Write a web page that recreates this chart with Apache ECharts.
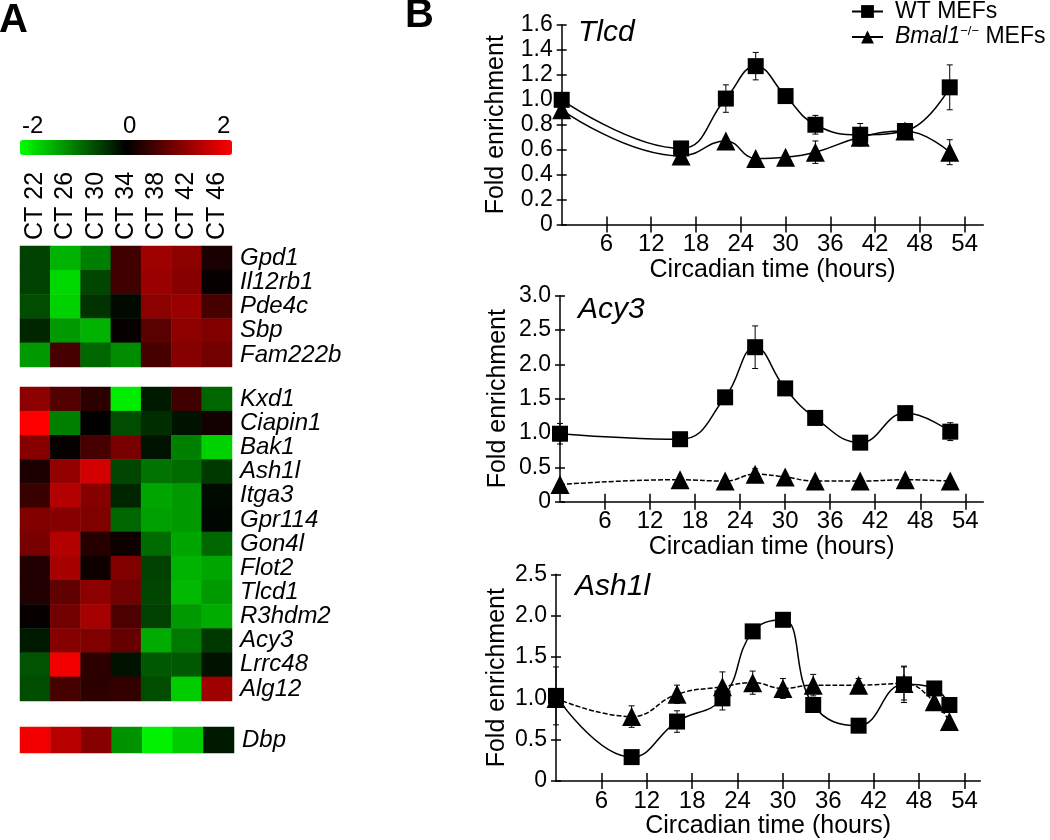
<!DOCTYPE html>
<html lang="en">
<head>
<meta charset="UTF-8">
<title>Heatmap and ChIP time courses</title>
<script src="https://cdn.jsdelivr.net/npm/echarts@6/dist/echarts.min.js"></script>
<style>
  html, body { margin: 0; padding: 0; background: #fff; }
  #chart { width: 1050px; height: 840px; }
</style>
</head>
<body>
<div id="chart"></div>
<script>
var FONT = 'Liberation Sans, Arial, sans-serif';

// ---- panel A: heatmap ----
var timepoints = ['CT 22', 'CT 26', 'CT 30', 'CT 34', 'CT 38', 'CT 42', 'CT 46'];

var genesTop = ['Gpd1', 'Il12rb1', 'Pde4c', 'Sbp', 'Fam222b'];
var valsTop = [
  [-0.5, -1.4, -1.0, 0.5, 1.25, 1.1, 0.2],
  [-0.5, -1.7, -0.55, 0.5, 1.2, 1.05, 0.05],
  [-0.6, -1.65, -0.4, -0.08, 1.1, 1.2, 0.55],
  [-0.3, -1.2, -1.4, 0.05, 0.7, 1.1, 1.0],
  [-1.2, 0.55, -0.8, -1.1, 0.55, 1.05, 0.9]
];

var genesMid = ['Kxd1', 'Ciapin1', 'Bak1', 'Ash1l', 'Itga3', 'Gpr114', 'Gon4l',
  'Flot2', 'Tlcd1', 'R3hdm2', 'Acy3', 'Lrrc48', 'Alg12'];
var valsMid = [
  [1.1, 0.65, 0.35, -1.85, -0.2, 0.5, -0.8],
  [2.0, -1.0, 0.0, -0.6, -0.35, -0.15, 0.15],
  [1.05, 0.05, 0.55, 0.95, -0.15, -1.0, -1.65],
  [0.2, 1.15, 1.65, -0.55, -0.9, -0.85, -0.45],
  [0.45, 1.4, 1.05, -0.3, -1.3, -1.2, -0.08],
  [1.0, 1.05, 1.0, -0.8, -1.25, -1.2, -0.05],
  [0.95, 1.4, 0.3, 0.1, -0.85, -1.3, -0.8],
  [0.25, 1.3, 0.12, 1.0, -0.5, -1.4, -1.3],
  [0.25, 0.75, 1.1, 0.9, -0.55, -1.45, -1.2],
  [0.05, 0.9, 1.3, 0.6, -0.5, -1.2, -1.35],
  [-0.2, 1.05, 1.0, 0.8, -1.35, -0.95, -0.45],
  [-0.65, 1.9, 0.35, -0.15, -0.7, -0.7, -0.15],
  [-0.6, 0.55, 0.35, 0.4, -0.6, -1.6, 1.25]
];

var genesDbp = ['Dbp'];
var valsDbp = [[1.9, 1.45, 1.05, -1.15, -1.9, -1.6, -0.2]];

var scaleLabels = ['-2', '0', '2'];

// ---- panel B: fold enrichment time courses ----
var xTicks = [6, 12, 18, 24, 30, 36, 42, 48, 54];

var tlcdTime = [0, 16, 22, 26, 30, 34, 40, 46, 52];
var tlcdWT = [1.0, 0.61, 1.01, 1.27, 1.03, 0.8, 0.72, 0.75, 1.1];
var tlcdWTErr = [0, 0.03, 0.11, 0.11, 0.03, 0.075, 0.09, 0.05, 0.18];
var tlcdKO = [0.92, 0.55, 0.67, 0.53, 0.54, 0.58, 0.7, 0.75, 0.58];
var tlcdKOErr = [0, 0, 0, 0, 0, 0.09, 0.04, 0.06, 0.1];

var acyTime = [0, 16, 22, 26, 30, 34, 40, 46, 52];
var acyWT = [0.99, 0.91, 1.52, 2.25, 1.65, 1.22, 0.86, 1.29, 1.02];
var acyWTErr = [0.15, 0.07, 0, 0.31, 0.1, 0.1, 0, 0, 0.13];
var acyKO = [0.25, 0.32, 0.3, 0.4, 0.36, 0.3, 0.3, 0.32, 0.3];
var acyKOErr = [0, 0, 0, 0.08, 0, 0, 0, 0, 0];

var ashTime = [0, 10, 16, 22, 26, 30, 34, 40, 46, 50, 52];
var ashWT = [1.03, 0.29, 0.72, 1.0, 1.81, 1.95, 0.92, 0.67, 1.17, 1.12, 0.92];
var ashWTErr = [0.35, 0, 0.13, 0.14, 0, 0.06, 0, 0, 0.22, 0, 0];
var ashKO = [1.0, 0.78, 1.05, 1.14, 1.19, 1.12, 1.16, 1.16, 1.18, 0.96, 0.72];
var ashKOErr = [0, 0.13, 0.11, 0.18, 0.14, 0.12, 0.13, 0.08, 0.2, 0, 0];

var WT = 'WT MEFs';
var KO = 'Bmal1\u2212/\u2212 MEFs';

function cells(vals) {
  var out = [];
  vals.forEach(function (row, r) {
    row.forEach(function (v, c) { out.push([c, r, v]); });
  });
  return out;
}

function pairs(xs, ys) {
  return xs.map(function (x, i) { return [x, ys[i]]; });
}

function errs(xs, ys, es) {
  var out = [];
  xs.forEach(function (x, i) {
    if (es[i] > 0) out.push([x, ys[i] - es[i], ys[i] + es[i]]);
  });
  return out;
}

function renderErr(params, api) {
  var x = api.value(0);
  var lo = api.coord([x, api.value(1)]);
  var hi = api.coord([x, api.value(2)]);
  var w = 3;
  var st = { stroke: '#000', lineWidth: 1 };
  return {
    type: 'group',
    children: [
      { type: 'line', shape: { x1: lo[0], y1: lo[1], x2: hi[0], y2: hi[1] }, style: st },
      { type: 'line', shape: { x1: lo[0] - w, y1: lo[1], x2: lo[0] + w, y2: lo[1] }, style: st },
      { type: 'line', shape: { x1: hi[0] - w, y1: hi[1], x2: hi[0] + w, y2: hi[1] }, style: st }
    ]
  };
}

var chart = echarts.init(document.getElementById('chart'));

// heatmap axes
var heatGrids = [
  { left: 20, top: 246, width: 212, height: 121 },
  { left: 20, top: 387, width: 212, height: 314 },
  { left: 20, top: 727, width: 214, height: 26 }
];
var geneLists = [genesTop, genesMid, genesDbp];

var xAxes = [], yAxes = [];
heatGrids.forEach(function (g, i) {
  xAxes.push({
    type: 'category', gridIndex: i, data: timepoints, position: 'top',
    axisLine: { show: false }, axisTick: { show: false }, splitLine: { show: false },
    axisLabel: {
      show: i === 0, rotate: -90, interval: 0, margin: 6,
      fontFamily: FONT, fontSize: 25, color: '#000'
    }
  });
  yAxes.push({
    type: 'category', gridIndex: i, data: geneLists[i], inverse: true, position: 'right',
    axisLine: { show: false }, axisTick: { show: false }, splitLine: { show: false },
    axisLabel: {
      interval: 0, margin: 8, fontFamily: FONT, fontSize: 24,
      fontStyle: 'italic', color: '#000'
    }
  });
});

// line chart grids (x axis max in hours, y range, y-name gap)
var lineGrids = [
  { left: 561.7, top: 25, width: 421.6, height: 199.5, max: 56.5, ymax: 1.6, step: 0.2, ngap: 53 },
  { left: 560, top: 295.7, width: 423.3, height: 206, max: 56.4, ymax: 3.0, step: 0.5, ngap: 49 },
  { left: 556, top: 574.3, width: 424.4, height: 208.4, max: 56.1, ymax: 2.5, step: 0.5, ngap: 46 }
];

var axisBlack = { color: '#000', width: 1.5 };

lineGrids.forEach(function (g, k) {
  var gi = k + 3;
  xAxes.push({
    type: 'value', gridIndex: gi, min: 0, max: g.max,
    name: 'Circadian time (hours)', nameLocation: 'middle', nameGap: 26,
    nameTextStyle: { fontFamily: FONT, fontSize: 25, color: '#000' },
    axisLine: { lineStyle: axisBlack },
    axisTick: { customValues: xTicks, length: 8, lineStyle: axisBlack },
    axisLabel: { customValues: xTicks, margin: 8, fontFamily: FONT, fontSize: 24, color: '#000' },
    splitLine: { show: false }
  });
  yAxes.push({
    type: 'value', gridIndex: gi, min: 0, max: g.ymax, interval: g.step,
    name: 'Fold enrichment', nameLocation: 'middle', nameGap: g.ngap,
    nameTextStyle: { fontFamily: FONT, fontSize: 25, color: '#000' },
    axisLine: { show: true, lineStyle: axisBlack },
    axisTick: { show: true, length: 5, lineStyle: axisBlack },
    axisLabel: {
      margin: 9, fontFamily: FONT, fontSize: 23, color: '#000',
      formatter: function (v) { return v === 0 ? '0' : v.toFixed(1); }
    },
    splitLine: { show: false }
  });
});

// second set of axes on the same grids: inside half of the crossing ticks
lineGrids.forEach(function (g, k) {
  var gi = k + 3;
  xAxes.push({
    type: 'value', gridIndex: gi, min: 0, max: g.max, position: 'bottom',
    axisLine: { show: false }, axisLabel: { show: false }, splitLine: { show: false },
    axisTick: { customValues: xTicks, inside: true, length: 8, lineStyle: axisBlack }
  });
  yAxes.push({
    type: 'value', gridIndex: gi, min: 0, max: g.ymax, interval: g.step, position: 'left',
    axisLine: { show: false }, axisLabel: { show: false }, splitLine: { show: false },
    axisTick: { show: true, inside: true, length: 5, lineStyle: axisBlack }
  });
});

var series = [
  { type: 'heatmap', xAxisIndex: 0, yAxisIndex: 0, data: cells(valsTop) },
  { type: 'heatmap', xAxisIndex: 1, yAxisIndex: 1, data: cells(valsMid) },
  { type: 'heatmap', xAxisIndex: 2, yAxisIndex: 2, data: cells(valsDbp) }
];

var sets = [
  [tlcdTime, tlcdWT, tlcdWTErr, tlcdKO, tlcdKOErr, 'solid'],
  [acyTime, acyWT, acyWTErr, acyKO, acyKOErr, [5, 2]],
  [ashTime, ashWT, ashWTErr, ashKO, ashKOErr, [5, 2]]
];

sets.forEach(function (s, k) {
  var ax = k + 3;
  series.push({
    type: 'custom', xAxisIndex: ax, yAxisIndex: ax, renderItem: renderErr,
    encode: { x: 0, y: [1, 2] }, data: errs(s[0], s[1], s[2]), silent: true, z: 1
  });
  series.push({
    type: 'custom', xAxisIndex: ax, yAxisIndex: ax, renderItem: renderErr,
    encode: { x: 0, y: [1, 2] }, data: errs(s[0], s[3], s[4]), silent: true, z: 1
  });
  series.push({
    name: KO, type: 'line', xAxisIndex: ax, yAxisIndex: ax, data: pairs(s[0], s[3]),
    smooth: 0.45, symbol: 'triangle', symbolSize: 19,
    lineStyle: { color: '#000', width: 1.5, type: s[5] },
    itemStyle: { color: '#000' }, z: 2
  });
  series.push({
    name: WT, type: 'line', xAxisIndex: ax, yAxisIndex: ax, data: pairs(s[0], s[1]),
    smooth: 0.45, symbol: 'rect', symbolSize: 16,
    lineStyle: { color: '#000', width: 1.5 },
    itemStyle: { color: '#000' }, z: 3
  });
});

var bold = { fontFamily: FONT, fontSize: 40, fontWeight: 'bold', color: '#000' };
var ital = { fontFamily: FONT, fontSize: 30, fontStyle: 'italic', fontWeight: 'normal', color: '#000' };

var option = {
  backgroundColor: '#fff',
  animation: false,
  title: [
    { text: 'A', left: -1, top: 1, padding: 0, textStyle: bold },
    { text: 'B', left: 405, top: -4, padding: 0, textStyle: bold },
    { text: 'Tlcd', left: 578, top: 18, padding: 0, textStyle: ital },
    { text: 'Acy3', left: 578, top: 295, padding: 0, textStyle: ital },
    { text: 'Ash1l', left: 575, top: 572, padding: 0, textStyle: ital }
  ],
  legend: {
    data: [WT, KO], orient: 'vertical', left: 851, top: 0, itemGap: 2,
    itemWidth: 31, itemHeight: 16, selectedMode: false, padding: 0,
    textStyle: {
      fontFamily: FONT, fontSize: 23, color: '#000', padding: [0, 0, 0, 7],
      rich: {
        i: { fontFamily: FONT, fontSize: 23, fontStyle: 'italic', color: '#000' },
        s: { fontFamily: FONT, fontSize: 13, color: '#000', padding: [0, 0, 11, 0] },
        n: { fontFamily: FONT, fontSize: 23, color: '#000' }
      }
    },
    formatter: function (name) {
      return name === WT ? name : '{i|Bmal1}{s|\u2212/\u2212}{n| MEFs}';
    }
  },
  visualMap: {
    type: 'continuous', min: -2, max: 2, orient: 'horizontal',
    left: 20, top: 140, itemWidth: 15, itemHeight: 212, padding: 0,
    calculable: false, seriesIndex: [0, 1, 2], text: null,
    inRange: { color: ['#00ff00', '#000000', '#ff0000'] }
  },
  graphic: scaleLabels.map(function (t, i) {
    return {
      type: 'text', left: [22, 123, 217][i], top: 114,
      style: { text: t, fontFamily: FONT, fontSize: 24, fill: '#000' }
    };
  }),
  grid: heatGrids.concat(lineGrids.map(function (g) {
    return { left: g.left, top: g.top, width: g.width, height: g.height };
  })),
  xAxis: xAxes,
  yAxis: yAxes,
  series: series
};

chart.setOption(option);
</script>
</body>
</html>
